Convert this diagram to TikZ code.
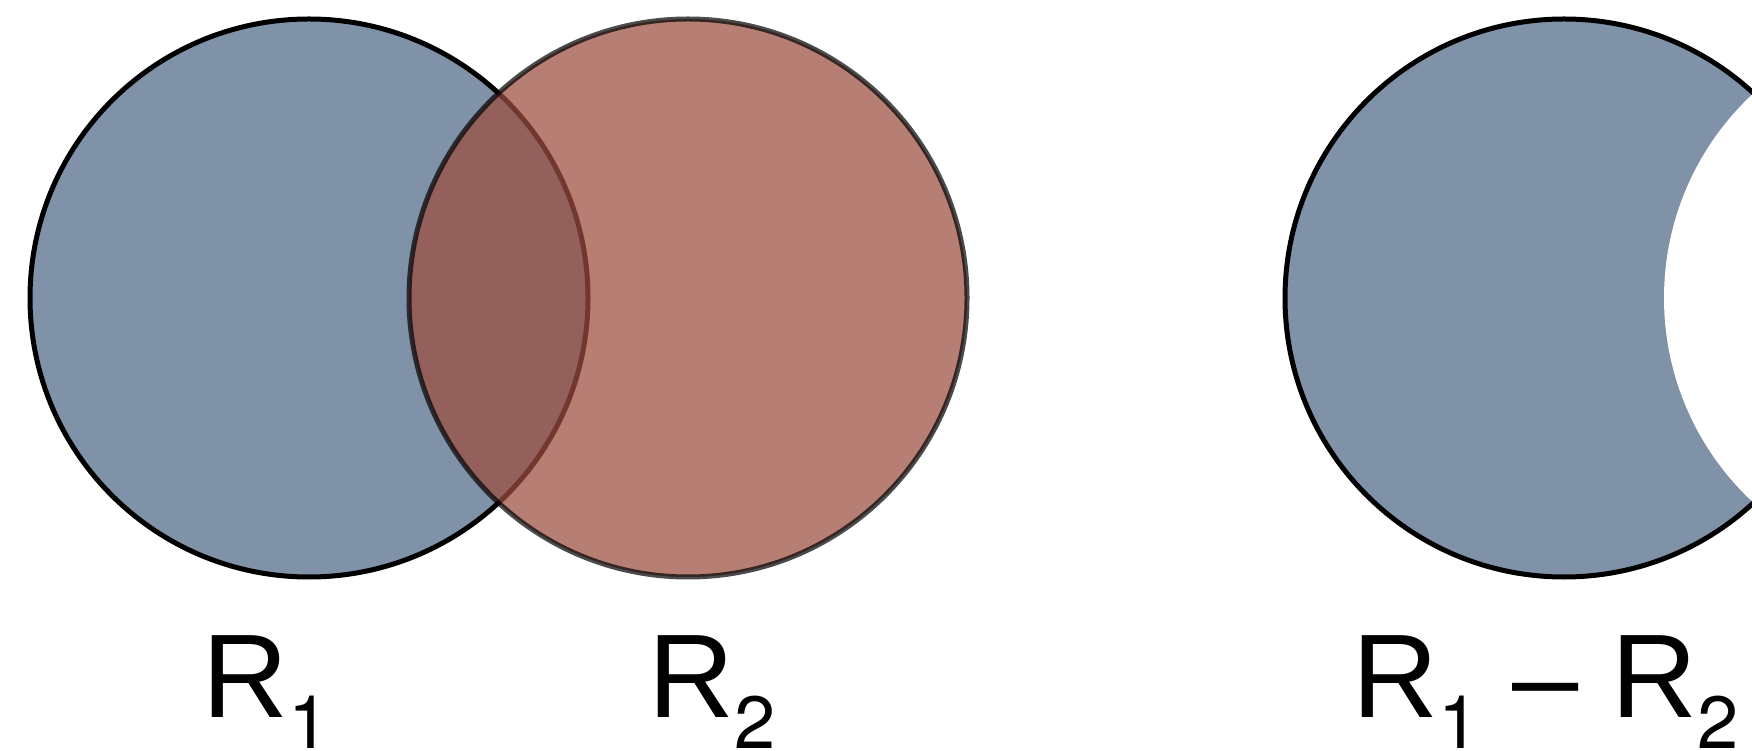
\documentclass[tikz,border=0pt]{standalone}
\usepackage{fontspec}
\setmainfont{Liberation Sans}
\newfontfamily\subfont{TeX Gyre Heros}
\definecolor{setblue}{RGB}{128,146,168}
\definecolor{setred}{RGB}{156,78,65}
\newcommand{\lsub}[1]{\raisebox{-31pt}{\subfont\fontsize{74}{80}\selectfont #1}}
\begin{document}
\begin{tikzpicture}[x=1pt,y=1pt,
  setline/.style={line width=5pt},
  bluecirc/.style={setline, fill=setblue, draw=black},
  redcirc/.style={setline, fill=setred, draw=black, fill opacity=0.73, draw opacity=0.7},
  setlabel/.style={anchor=base west, inner sep=0pt, outer sep=0pt, font=\fontsize{119}{140}\selectfont}]
\useasboundingbox (0,0) rectangle (1752,750);
% left: R1 and R2
\draw[bluecirc] (309,452) circle[radius=279];
\draw[redcirc] (688,452) circle[radius=279];
% right: R1 - R2
\draw[bluecirc] (1564,452) circle[radius=279];
\fill[white] (1943,452) circle[radius=279];
% labels
\node[setlabel] (l1) at (202.6,33) {R\lsub{1}};
\node[setlabel] (l2) at (648.6,33) {R\lsub{2}};
\node[setlabel] (l3) at (1352.6,33) {R\lsub{1} – R\lsub{2}};
\end{tikzpicture}
\end{document}
